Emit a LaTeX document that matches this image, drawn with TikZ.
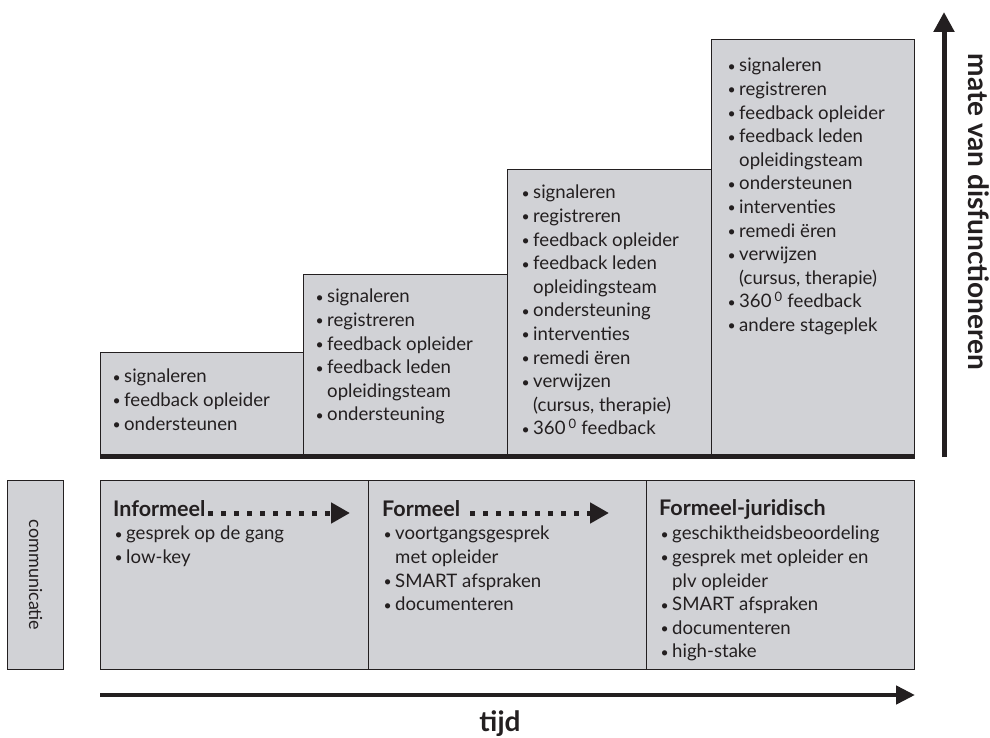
\documentclass[tikz,border=0pt]{standalone}
\usepackage{fontspec}
\setmainfont{Lato}
\usetikzlibrary{arrows.meta}
\definecolor{boxfill}{RGB}{209,210,214}
\definecolor{ink}{RGB}{35,31,32}
\newcommand\bu{\makebox[12pt][l]{\hspace{0.5pt}{\fontsize{14}{14}\selectfont\raisebox{0.6pt}{\textbullet}}}}
\newcommand\ind{\hspace*{12pt}}
\newcommand\degr{\,\textsuperscript{0}}
\begin{document}
\begin{tikzpicture}[x=1pt,y=-1pt,
  panel/.style={draw=ink, fill=boxfill, line width=1.1pt, anchor=north west, inner sep=0pt},
  txt/.style={anchor=north west, inner sep=0pt, align=left, text=ink,
    font=\fontsize{18.6}{23.6}\selectfont},
  head/.style={anchor=north west, inner sep=0pt, align=left, text=ink,
    font=\fontsize{21.5}{24}\selectfont\bfseries},
  thick line/.style={draw=ink, line width=5pt},
  dotarrow/.style={draw=ink, line width=5pt, dash pattern=on 5pt off 8pt,
    -{Triangle[length=19pt,width=20pt]}},
  axis/.style={draw=ink, line width=5pt, -{Triangle[length=20pt,width=20pt]}},
  axislabel/.style={text=ink, inner sep=0pt, font=\fontsize{28}{30}\selectfont\bfseries}
]
\useasboundingbox (0,0) rectangle (990,738);

% upper staircase panels
\node[panel, minimum width=203pt, minimum height=103pt] (b1) at (100,352) {};
\node[panel, minimum width=204pt, minimum height=181pt] (b2) at (303,274) {};
\node[panel, minimum width=204pt, minimum height=286pt] (b3) at (507,169) {};
\node[panel, minimum width=203pt, minimum height=416pt] (b4) at (711,39) {};
\draw[thick line] (b1.south west) -- (b4.south east);

\node[txt] (t1) at (112,369) {\bu signaleren\\ \bu feedback opleider\\ \bu ondersteunen};
\node[txt] (t2) at (315,289) {\bu signaleren\\ \bu registreren\\ \bu feedback opleider\\ \bu feedback leden\\ \ind opleidingsteam\\ \bu ondersteuning};
\node[txt] (t3) at (521,185) {\bu signaleren\\ \bu registreren\\ \bu feedback opleider\\ \bu feedback leden\\ \ind opleidingsteam\\ \bu ondersteuning\\ \bu interventies\\ \bu remedi ëren\\ \bu verwijzen\\ \ind (cursus, therapie)\\ \bu 360\degr{} feedback};
\node[txt] (t4) at (727,58) {\bu signaleren\\ \bu registreren\\ \bu feedback opleider\\ \bu feedback leden\\ \ind opleidingsteam\\ \bu ondersteunen\\ \bu interventies\\ \bu remedi ëren\\ \bu verwijzen\\ \ind (cursus, therapie)\\ \bu 360\degr{} feedback\\ \bu andere stageplek};

% vertical axis
\coordinate (vbot) at (944,457);
\coordinate (vtop) at (944,12);
\draw[axis] (vbot) -- (vtop);
\node[axislabel, rotate=-90] (vlab) at (979,212) {mate van disfunctioneren};

% communication row
\node[panel, minimum width=56pt, minimum height=189pt] (comm) at (7,480) {};
\node[text=ink, inner sep=0pt, rotate=-90, font=\fontsize{18}{20}\selectfont] (commlab) at (comm.center) {communicatie};

\node[panel, minimum width=268pt, minimum height=189pt] (f1) at (100,480) {};
\node[panel, minimum width=278pt, minimum height=189pt] (f2) at (368,480) {};
\node[panel, minimum width=268pt, minimum height=189pt] (f3) at (646,480) {};

\node[head] (h1) at (113,500) {Informeel};
\node[head] (h2) at (382,500) {Formeel};
\node[head] (h3) at (659,499) {Formeel-juridisch};

\node[txt] (s1) at (114,526) {\bu gesprek op de gang\\ \bu low-key};
\node[txt] (s2) at (383,526) {\bu voortgangsgesprek\\ \ind met opleider\\ \bu SMART afspraken\\ \bu documenteren};
\node[txt] (s3) at (660,526) {\bu geschiktheidsbeoordeling\\ \bu gesprek met opleider en\\ \ind plv opleider\\ \bu SMART afspraken\\ \bu documenteren\\ \bu high-stake};

\coordinate (d1a) at (208,513);
\coordinate (d1b) at (350,513);
\coordinate (d2a) at (470,513);
\coordinate (d2b) at (609,513);
\draw[dotarrow] (d1a) -- (d1b);
\draw[dotarrow] (d2a) -- (d2b);

% time axis
\coordinate (tstart) at (100,695);
\coordinate (tend) at (915,695);
\draw[draw=ink, line width=4.5pt, -{Triangle[length=19pt,width=18pt]}] (tstart) -- (tend);
\node[axislabel] (tlab) at (500,724) {tijd};
\end{tikzpicture}
\end{document}
